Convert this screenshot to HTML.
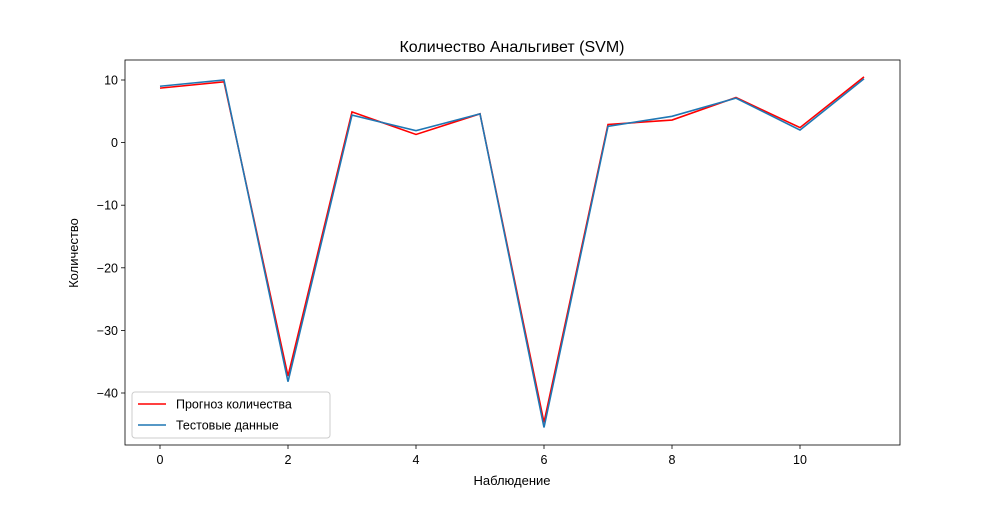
<!DOCTYPE html>
<html><head><meta charset="utf-8"><style>
body{margin:0;background:#fff;}
svg{font-family:"Liberation Sans","DejaVu Sans",sans-serif;}
</style></head><body>
<svg id="chart" width="1000" height="500">
</svg>
<script>
const categories=[0,1,2,3,4,5,6,7,8,9,10,11];
const forecast=[8.7,9.7,-37.3,4.9,1.3,4.6,-44.7,2.9,3.6,7.2,2.4,10.5];
const testData=[9.0,10.0,-38.2,4.4,1.9,4.6,-45.5,2.6,4.2,7.1,2.0,10.2];
const xTicks=[0,2,4,6,8,10];
const yTicks=[10,0,-10,-20,-30,-40];
const yTickLabels=["10","0","\u221210","\u221220","\u221230","\u221240"];

const L=125,R=900,T=60,B=445;
const xs=v=>160+v*64;
const ys=v=>142.6-v*6.26;
const svg=document.getElementById('chart');
const NS='http://www.w3.org/2000/svg';
function mk(tag,attrs,parent){const e=document.createElementNS(NS,tag);for(const k in attrs)e.setAttribute(k,attrs[k]);(parent||svg).appendChild(e);return e;}

const title=mk('text',{x:512,y:52,'text-anchor':'middle','font-size':16,fill:'#000'});
title.textContent='Количество Анальгивет (SVM)';



xTicks.forEach(v=>{
  const g=mk('g',{});
  
  
  mk('line',{x1:xs(v),x2:xs(v),y1:B,y2:B+4,stroke:'#000','stroke-width':0.8},g);
  const t=mk('text',{x:xs(v),y:B+19,'text-anchor':'middle','font-size':12.5},g);t.textContent=v;
});
yTicks.forEach((v,i)=>{
  const g=mk('g',{});
  
  
  mk('line',{x1:L-4,x2:L,y1:ys(v),y2:ys(v),stroke:'#000','stroke-width':0.8},g);
  const t=mk('text',{x:L-7,y:ys(v)+4.5,'text-anchor':'end','font-size':12.5},g);t.textContent=yTickLabels[i];
});
const xl=mk('text',{x:512,y:485,'text-anchor':'middle','font-size':13});xl.textContent='Наблюдение';


const yl=mk('text',{x:0,y:0,'text-anchor':'middle','font-size':13,transform:'translate(78,253) rotate(-90)'});yl.textContent='Количество';



function line(data,color,name){
  const p=mk('polyline',{points:data.map((v,i)=>xs(categories[i])+','+ys(v)).join(' '),fill:'none',stroke:color,'stroke-width':1.6});
  
  
}
line(forecast,'#ff0000','forecast-line');
line(testData,'#1f77b4','test-data-line');

const frame=mk('rect',{x:L,y:T,width:R-L,height:B-T,fill:'none',stroke:'#000','stroke-width':0.8});



const lg=mk('g',{});


mk('rect',{x:132,y:392,width:198,height:46,rx:3,fill:'#fff',stroke:'#ccc','stroke-width':1},lg);
[['Прогноз количества','#ff0000'],['Тестовые данные','#1f77b4']].forEach((d,i)=>{
  const e=mk('g',{},lg);
  
  
  const y=404+i*21;
  mk('line',{x1:138,x2:166,y1:y,y2:y,stroke:d[1],'stroke-width':1.6},e);
  const t=mk('text',{x:176,y:y+4.5,'font-size':12.5},e);t.textContent=d[0];
});
</script>
</body></html>
